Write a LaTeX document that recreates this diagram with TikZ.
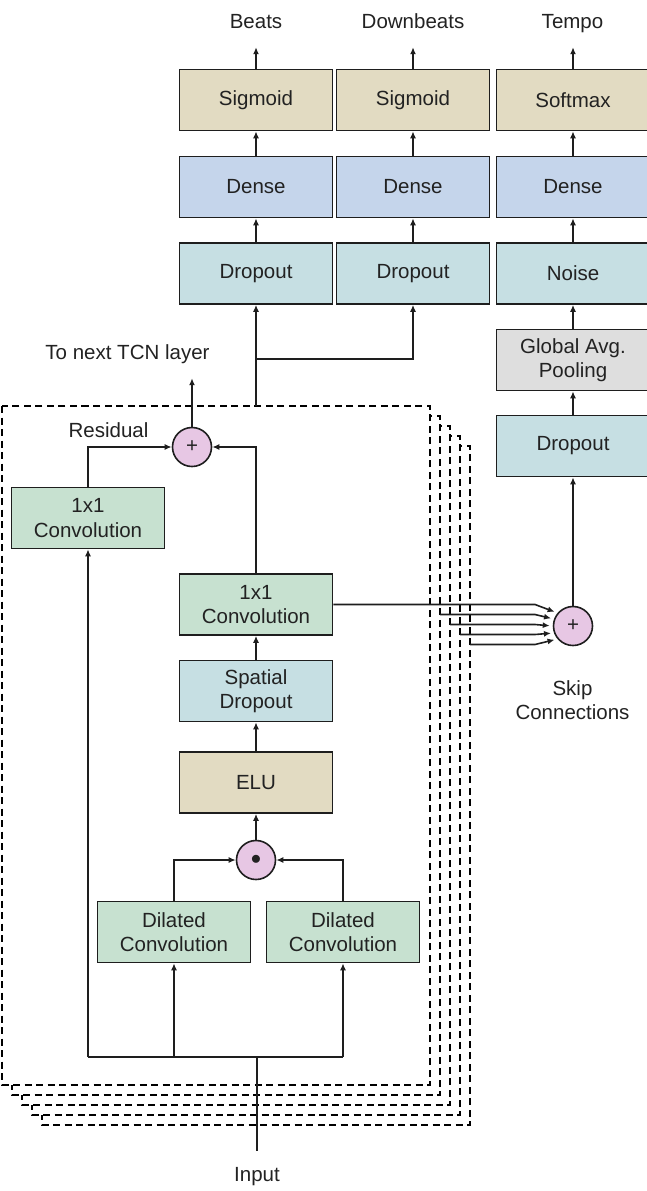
\documentclass[tikz,border=0pt]{standalone}
\usepackage{fontspec}
\setmainfont{Liberation Sans}
\usepackage{tikz}
\usetikzlibrary{arrows.meta}
\usepackage{xcolor}
\tikzset{>={Latex[length=7pt,width=6pt]}}

\definecolor{actfill}{RGB}{226,219,194}
\definecolor{densefill}{RGB}{197,213,235}
\definecolor{dropfill}{RGB}{198,223,227}
\definecolor{convfill}{RGB}{199,225,208}
\definecolor{poolfill}{RGB}{222,222,222}
\definecolor{opfill}{RGB}{231,199,228}
\definecolor{txt}{RGB}{34,34,34}
\definecolor{linec}{RGB}{30,30,30}

\begin{document}
\begin{tikzpicture}[x=1pt, y=-1pt]
                        % y runs downwards, 1pt = 1px of the layout
                        \tikzstyle{every node}=[font=\fontsize{20.5}{24.5}\selectfont, text=txt]
                        \tikzstyle{box}=[draw=linec, line width=1.6pt, minimum width=153pt, minimum height=61pt, inner sep=0pt, align=center]
                        \tikzstyle{op}=[circle, draw=linec, line width=1.6pt, fill=opfill, minimum size=39pt, inner sep=0pt]
                        \tikzstyle{lbl}=[inner sep=0pt, text depth=0pt, anchor=base]
                        \tikzstyle{layer}=[draw=black, line width=1.4pt, dash pattern=on 7pt off 4.5pt, fill=white]
                        \tikzstyle{conn}=[draw=linec, line width=1.6pt]
                        \useasboundingbox (0,0) rectangle (646,1191);

                        % stack of TCN layers, back to front
                        \draw[layer] (42,446) rectangle (470,1125);
                        \draw[layer] (32,436) rectangle (460,1115);
                        \draw[layer] (22,426) rectangle (450,1105);
                        \draw[layer] (12,416) rectangle (440,1095);
                        \draw[layer] (2,406) rectangle (430,1085);

                        % output heads
                        \node[box, fill=actfill] (SB) at (256,100) {Sigmoid};
                        \node[box, fill=actfill] (SD) at (413,100) {Sigmoid};
                        \node[box, fill=actfill] (SM) at (573,100) {Softmax};
                        \node[box, fill=densefill] (DB) at (256,187) {Dense};
                        \node[box, fill=densefill] (DD) at (413,187) {Dense};
                        \node[box, fill=densefill] (DT) at (573,187) {Dense};
                        \node[box, fill=dropfill] (PB) at (256,273.5) {Dropout};
                        \node[box, fill=dropfill] (PD) at (413,273.5) {Dropout};
                        \node[box, fill=dropfill] (N) at (573,273.5) {Noise};
                        \node[box, fill=poolfill] (G) at (573,360) {Global Avg.\\Pooling};
                        \node[box, fill=dropfill] (PT) at (573,446) {Dropout};

                        \node[lbl] (beats) at (256,28) {Beats};
                        \node[lbl] (downbeats) at (413,28) {Downbeats};
                        \node[lbl] (tempo) at (572.5,28) {Tempo};

                        \draw[conn, ->, shorten >=19pt] (SB.north) -- (beats.south);
                        \draw[conn, ->, shorten >=19pt] (SD.north) -- (downbeats.south);
                        \draw[conn, ->, shorten >=19pt] (SM.north) -- (SM.north |- tempo.south);
                        \draw[conn, ->] (DB) -- (SB);
                        \draw[conn, ->] (DD) -- (SD);
                        \draw[conn, ->] (DT) -- (SM);
                        \draw[conn, ->] (PB) -- (DB);
                        \draw[conn, ->] (PD) -- (DD);
                        \draw[conn, ->] (N) -- (DT);
                        \draw[conn, ->] (G) -- (N);
                        \draw[conn, ->] (PT) -- (G);

                        % one TCN layer
                        \node[op] (add) at (192,447) {+};
                        \node[box, fill=convfill] (R) at (88,518) {1x1\\Convolution};
                        \node[box, fill=convfill] (C) at (256,604.5) {1x1\\Convolution};
                        \node[box, fill=dropfill] (SP) at (256,691) {Spatial\\Dropout};
                        \node[box, fill=actfill] (E) at (256,782.5) {ELU};
                        \node[op] (mul) at (256,860) {$\bullet$};
                        \node[box, fill=convfill] (DL) at (174,932) {Dilated\\Convolution};
                        \node[box, fill=convfill] (DR) at (343,932) {Dilated\\Convolution};

                        \node[lbl] (tcn) at (127.5,359) {To next TCN layer};
                        \node[lbl] (res) at (108.5,437) {Residual};
                        \node[lbl] (inp) at (257,1181) {Input};

                        \coordinate (out) at (256,406);
                        \coordinate (split) at (256,359);
                        \coordinate (bus) at (257,1057);

                        \draw[conn, shorten <=16pt] (inp.north) -- (bus);
                        \draw[conn] (R.south |- bus) -- (DR.south |- bus);
                        \draw[conn, ->] (R.south |- bus) -- (R.south);
                        \draw[conn, ->] (DL.south |- bus) -- (DL.south);
                        \draw[conn, ->] (DR.south |- bus) -- (DR.south);
                        \draw[conn, ->] (DL.north) |- (mul.west);
                        \draw[conn, ->] (DR.north) |- (mul.east);
                        \draw[conn, ->] (mul) -- (E);
                        \draw[conn, ->] (E) -- (SP);
                        \draw[conn, ->] (SP) -- (C);
                        \draw[conn, ->] (C.north) |- (add.east);
                        \draw[conn, ->] (R.north) |- (add.west);
                        \draw[conn, ->, shorten >=19pt] (add) -- (add |- tcn.south);

                        \draw[conn, ->] (out) -- (PB.south);
                        \draw[conn, ->] (split) -| (PD.south);

                        % skip connections from every layer
                        \node[op] (skip) at (573,626) {+};
                        \node[lbl, align=center, anchor=north] (skiptxt) at (572.5,680) {Skip\\Connections};
                        \draw[conn, ->] (skip) -- (PT);

                        \coordinate (bend) at (535,0);
                        \coordinate (s1) at (440,614.5);
                        \coordinate (s2) at (450,624.5);
                        \coordinate (s3) at (460,634.5);
                        \coordinate (s4) at (470,644.5);
                        \draw[conn, ->, shorten >=3pt] (C.east) -- (C.east -| bend) -- (skip.140);
                        \draw[conn, ->, shorten >=3pt] (s1) -- (s1 -| bend) -- (skip.160);
                        \draw[conn, ->, shorten >=3pt] (s2) -- (s2 -| bend) -- (skip.180);
                        \draw[conn, ->, shorten >=3pt] (s3) -- (s3 -| bend) -- (skip.200);
                        \draw[conn, ->, shorten >=3pt] (s4) -- (s4 -| bend) -- (skip.220);

                \end{tikzpicture}
\end{document}
